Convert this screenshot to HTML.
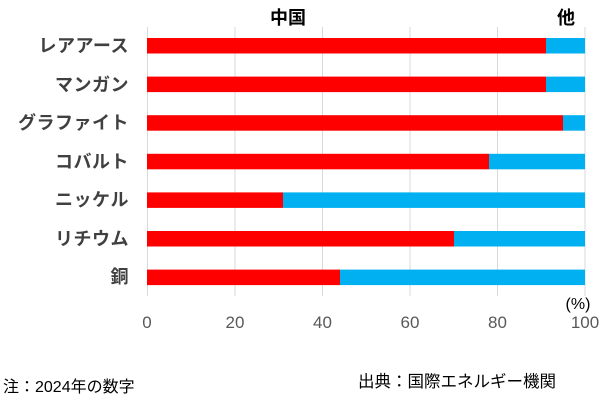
<!DOCTYPE html>
<html><head><meta charset="utf-8"><style>
body{margin:0;background:#fff;}
svg text{font-family:"Liberation Sans","Noto Sans CJK JP",sans-serif;}
</style></head><body>
<svg width="600" height="410" xmlns="http://www.w3.org/2000/svg">
<g stroke="#d9d9d9" stroke-width="1">
<line x1="147.5" y1="27" x2="147.5" y2="296"/>
<line x1="235" y1="27" x2="235" y2="296"/>
<line x1="322.5" y1="27" x2="322.5" y2="296"/>
<line x1="410" y1="27" x2="410" y2="296"/>
<line x1="497.5" y1="27" x2="497.5" y2="296"/>
<line x1="585" y1="27" x2="585" y2="296"/>
</g>
<g>
<rect x="147" y="38" width="399" height="15.5" fill="#ff0000"/><rect x="546" y="38" width="39" height="15.5" fill="#00b0f0"/>
<rect x="147" y="76.6" width="399" height="15.5" fill="#ff0000"/><rect x="546" y="76.6" width="39" height="15.5" fill="#00b0f0"/>
<rect x="147" y="115.2" width="416" height="15.5" fill="#ff0000"/><rect x="563" y="115.2" width="22" height="15.5" fill="#00b0f0"/>
<rect x="147" y="153.8" width="342" height="15.5" fill="#ff0000"/><rect x="489" y="153.8" width="96" height="15.5" fill="#00b0f0"/>
<rect x="147" y="192.4" width="136" height="15.5" fill="#ff0000"/><rect x="283" y="192.4" width="302" height="15.5" fill="#00b0f0"/>
<rect x="147" y="231" width="307" height="15.5" fill="#ff0000"/><rect x="454" y="231" width="131" height="15.5" fill="#00b0f0"/>
<rect x="147" y="269.6" width="193" height="15.5" fill="#ff0000"/><rect x="340" y="269.6" width="245" height="15.5" fill="#00b0f0"/>
</g>
<g font-size="18" font-weight="bold" fill="#404040" text-anchor="end" letter-spacing="0.5">
<text x="129" y="52">レアアース</text>
<text x="129" y="91">マンガン</text>
<text x="129" y="129">グラファイト</text>
<text x="129" y="168">コバルト</text>
<text x="129" y="206">ニッケル</text>
<text x="129" y="245">リチウム</text>
<text x="129" y="283">銅</text>
</g>
<g font-size="18" font-weight="bold" fill="#000" text-anchor="middle">
<text x="288" y="24">中国</text>
<text x="566" y="24">他</text>
</g>
<g font-size="17" fill="#595959" text-anchor="middle">
<text x="147" y="328">0</text>
<text x="235" y="328">20</text>
<text x="322.5" y="328">40</text>
<text x="410" y="328">60</text>
<text x="497.5" y="328">80</text>
<text x="585" y="328">100</text>
</g>
<text x="578" y="309" font-size="16" fill="#000" text-anchor="middle">(%)</text>
<text x="3" y="392" font-size="16" fill="#000">注：2024年の数字</text>
<text x="358" y="387" font-size="16.5" fill="#000">出典：国際エネルギー機関</text>
</svg>
</body></html>
